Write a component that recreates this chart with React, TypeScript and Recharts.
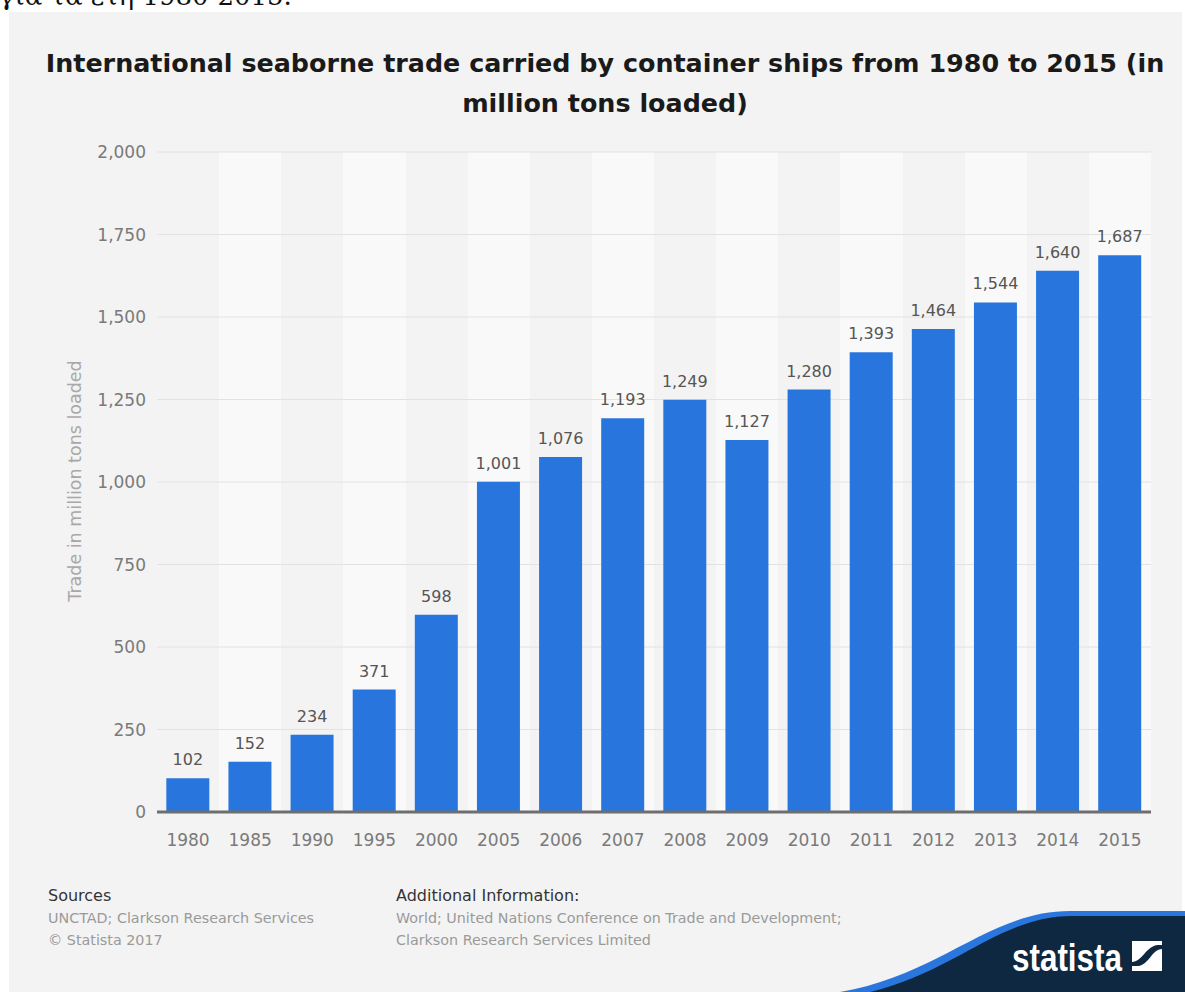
import { BarChart, Bar, XAxis, YAxis, CartesianGrid, LabelList } from 'recharts';

const years = ['1980', '1985', '1990', '1995', '2000', '2005', '2006', '2007', '2008', '2009', '2010', '2011', '2012', '2013', '2014', '2015'];
const tonsLoaded = [102, 152, 234, 371, 598, 1001, 1076, 1193, 1249, 1127, 1280, 1393, 1464, 1544, 1640, 1687];
const yTicks = [0, 250, 500, 750, 1000, 1250, 1500, 1750, 2000];

const data = years.map((year, i) => ({ year, tons: tonsLoaded[i] }));

const fmt = (v: any) => Number(v).toLocaleString('en-US');

// band edges of the category axis, used for the alternating column stripes
const bandEdges = ({ offset }: any) => years.map((_, i) => offset.left + (i * offset.width) / years.length);

export default function App() {
    return (
        <div style={{ position: 'absolute', left: 0, top: 0, width: 1185, height: 992, background: '#ffffff', overflow: 'hidden', fontFamily: '"DejaVu Sans", sans-serif' }}>
            {/* cut-off caption from the page above */}
            <div style={{ position: 'absolute', left: -1, top: -17, fontFamily: '"DejaVu Serif", serif', fontSize: 26, lineHeight: '26px', color: '#111', whiteSpace: 'nowrap' }}>
                για τα έτη 1980-2015.
            </div>

            {/* panel */}
            <div style={{ position: 'absolute', left: 9, top: 12, width: 1173, height: 980, background: '#f3f3f3' }} />

            {/* title */}
            <div style={{ position: 'absolute', left: 0, top: 43, width: 1210, textAlign: 'center', fontWeight: 'bold', fontSize: 25.4, lineHeight: '40px', color: '#1a1a1a', whiteSpace: 'nowrap' }}>
                International seaborne trade carried by container ships from 1980 to 2015 (in<br />million tons loaded)
            </div>

            {/* y axis title */}
            <div style={{ position: 'absolute', left: 75, top: 481, width: 0, height: 0 }}>
                <div style={{ position: 'absolute', left: -200, top: -11, width: 400, textAlign: 'center', transform: 'rotate(-90deg)', fontSize: 17.5, lineHeight: '22px', color: '#a8a8a8', whiteSpace: 'nowrap' }}>
                    Trade in million tons loaded
                </div>
            </div>

            <div style={{ position: 'absolute', left: 0, top: 0 }}>
                <BarChart width={1185} height={870} data={data} margin={{ top: 152, right: 34, left: 0, bottom: 18 }} barCategoryGap="15%">
                    <CartesianGrid horizontal={false} stroke="none" verticalFill={['none', '#f9f9f9']} verticalCoordinatesGenerator={bandEdges} />
                    <CartesianGrid vertical={false} stroke="#e2e2e2" />
                    <XAxis dataKey="year" interval={0} height={40} tickLine={false} axisLine={{ stroke: '#6e6e6e', strokeWidth: 3 }} tickMargin={16} tick={{ fontSize: 17, fill: '#7a7a7a' }} />
                    <YAxis domain={[0, 2000]} ticks={yTicks} width={157} axisLine={false} tickLine={false} tickMargin={5} tickFormatter={fmt} tick={{ fontSize: 17, fill: '#7a7a7a' }} />
                    <Bar dataKey="tons" fill="#2876dd" isAnimationActive={false}>
                        <LabelList dataKey="tons" position="top" offset={13} formatter={fmt} fill="#555555" fontSize={16} />
                    </Bar>
                </BarChart>
            </div>

            {/* footer */}
            <div style={{ position: 'absolute', left: 48, top: 885, fontSize: 16, lineHeight: '22px', color: '#333' }}>Sources</div>
            <div style={{ position: 'absolute', left: 48, top: 907, fontSize: 14.3, lineHeight: '22px', color: '#9a9a9a', whiteSpace: 'nowrap' }}>
                UNCTAD; Clarkson Research Services<br />© Statista 2017
            </div>
            <div style={{ position: 'absolute', left: 396, top: 885, fontSize: 16, lineHeight: '22px', color: '#333' }}>Additional Information:</div>
            <div style={{ position: 'absolute', left: 396, top: 907, fontSize: 14.3, lineHeight: '22px', color: '#9a9a9a', whiteSpace: 'nowrap' }}>
                World; United Nations Conference on Trade and Development;<br />Clarkson Research Services Limited
            </div>

            {/* statista logo */}
            <svg style={{ position: 'absolute', left: 0, top: 0 }} width={1185} height={992}>
                <path d="M840,992 C940,975 990,911 1070,911 L1185,911 L1185,992 Z" fill="#2a76dd" />
                <path d="M850,996 C950,980 995,916 1072,916 L1185,916 L1185,996 Z" fill="#0d2840" />
                <text x={1012} y={971} textLength={110} lengthAdjust="spacingAndGlyphs" fill="#ffffff" fontFamily='"Liberation Sans Narrow", "Liberation Sans", sans-serif' fontWeight="bold" fontSize={38}>statista</text>
                <rect x={1132} y={941} width={30} height={30} fill="#ffffff" />
                <path d="M1132,966 L1132,962 C1142,962 1146,946 1158,945 L1162,945 L1162,949 C1152,949 1149,965 1138,966 Z" fill="#0d2840" />
            </svg>
        </div>
    );
}
